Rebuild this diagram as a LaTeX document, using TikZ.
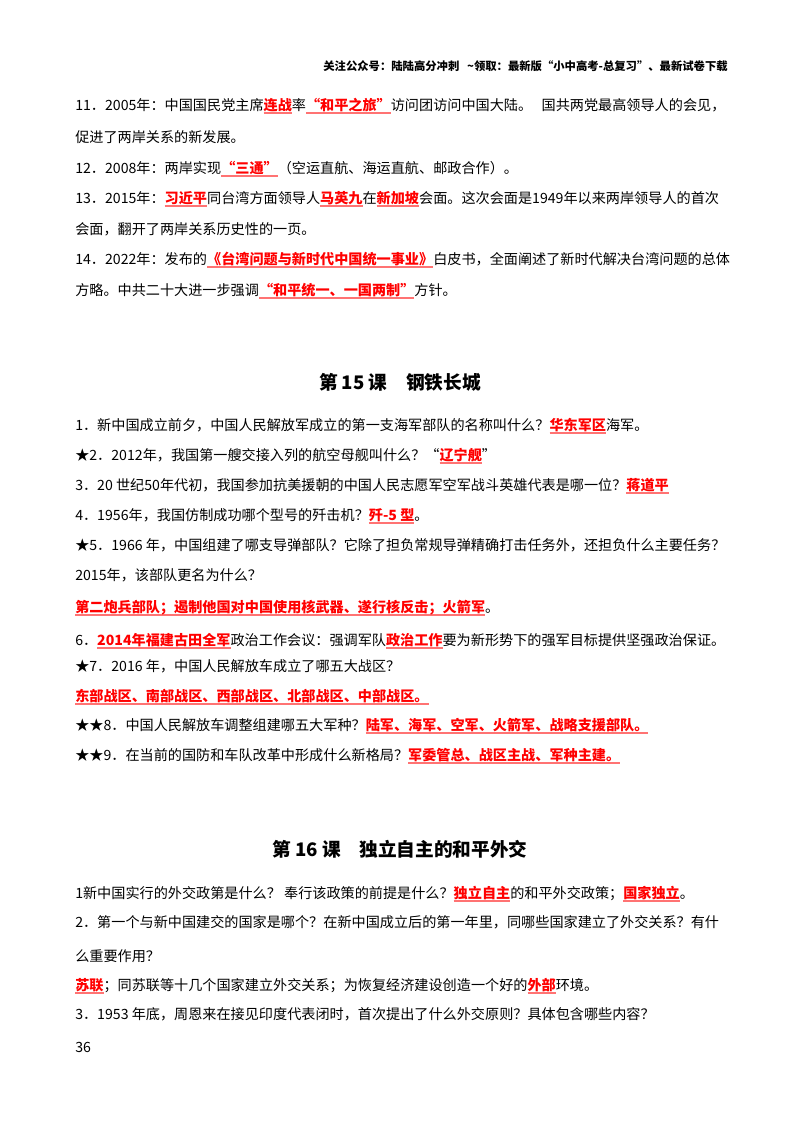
\documentclass[tikz,border=0pt]{standalone}
\usepackage{fontspec}
\setmainfont{Noto Sans CJK SC}
\begin{document}
\begin{tikzpicture}[x=0.75pt,y=-0.75pt,
  ln/.style={anchor=base west,inner sep=0pt,font=\fontsize{10.6pt}{13pt}\selectfont},
  ttl/.style={anchor=base,inner sep=0pt,font=\fontsize{14pt}{16pt}\selectfont\bfseries},
  hdr/.style={anchor=base east,inner sep=0pt,font=\fontsize{8.5pt}{10pt}\selectfont\bfseries}]
\newcommand\ans[1]{\setbox0\hbox{\textcolor{red}{\bfseries #1}}\rlap{\textcolor{red!55}{\rule[-3pt]{\wd0}{1.4pt}}}\box0}
\useasboundingbox[fill=white] (0,0) rectangle (800,1132);
\node[hdr] (h) at (728,70) {关注公众号：陆陆高分冲刺\ \ \ \~{}领取：最新版“小中高考-总复习”、最新试卷下载};
\node[ln] (a1) at (75,110) {11．2005年：中国国民党主席\ans{连战}率\ans{“和平之旅”}访问团访问中国大陆。\ \ \ 国共两党最高领导人的会见，};
\node[ln] (a2) at (75,142) {促进了两岸关系的新发展。};
\node[ln] (a3) at (75,173) {12．2008年：两岸实现\ans{“三通”}（空运直航、海运直航、邮政合作）。};
\node[ln] (a4) at (75,203) {13．2015年：\ans{习近平}同台湾方面领导人\ans{马英九}在\ans{新加坡}会面。这次会面是1949年以来两岸领导人的首次};
\node[ln] (a5) at (75,234) {会面，翻开了两岸关系历史性的一页。};
\node[ln] (a6) at (75,264) {14．2022年：发布的\ans{《台湾问题与新时代中国统一事业》}白皮书，全面阐述了新时代解决台湾问题的总体};
\node[ln] (a7) at (75,295) {方略。中共二十大进一步强调\ans{“和平统一、一国两制”}方针。};
\node[ttl] (t15) at (400,389) {第 15 课\quad 钢铁长城};
\node[ln] (b1) at (75,430) {1．新中国成立前夕，中国人民解放军成立的第一支海军部队的名称叫什么？\ans{华东军区}海军。};
\node[ln] (b2) at (75,460) {★2．2012年，我国第一艘交接入列的航空母舰叫什么？“\ans{辽宁舰}”};
\node[ln] (b3) at (75,490) {3．20 世纪50年代初，我国参加抗美援朝的中国人民志愿军空军战斗英雄代表是哪一位？\ans{蒋道平}};
\node[ln] (b4) at (75,520) {4．1956年，我国仿制成功哪个型号的歼击机？\ans{歼-5 型}。};
\node[ln] (b5) at (75,550) {★5．1966 年，中国组建了哪支导弹部队？它除了担负常规导弹精确打击任务外，还担负什么主要任务？};
\node[ln] (b6) at (75,580) {2015年，该部队更名为什么？};
\node[ln] (b7) at (75,612) {\ans{第二炮兵部队；遏制他国对中国使用核武器、遂行核反击；火箭军}。};
\node[ln] (b8) at (75,645) {6．\ans{2014年福建古田全军}政治工作会议：强调军队\ans{政治工作}要为新形势下的强军目标提供坚强政治保证。};
\node[ln] (b9) at (75,671) {★7．2016 年，中国人民解放车成立了哪五大战区？};
\node[ln] (b10) at (75,701) {\ans{东部战区、南部战区、西部战区、北部战区、中部战区。}};
\node[ln] (b11) at (75,730) {★★8．中国人民解放车调整组建哪五大军种？\ans{陆军、海军、空军、火箭军、战略支援部队。}};
\node[ln] (b12) at (75,760) {★★9．在当前的国防和车队改革中形成什么新格局？\ans{军委管总、战区主战、军种主建。}};
\node[ttl] (t16) at (400,856) {第 16 课\quad 独立自主的和平外交};
\node[ln] (c1) at (75,898) {1新中国实行的外交政第是什么？\ 奉行该政策的前提是什么？\ans{独立自主}的和平外交政策；\ans{国家独立}。};
\node[ln] (c2) at (75,927) {2．第一个与新中国建交的国家是哪个？在新中国成立后的第一年里，同哪些国家建立了外交关系？有什};
\node[ln] (c3) at (75,961) {么重要作用？};
\node[ln] (c4) at (75,990) {\ans{苏联}；同苏联等十几个国家建立外交关系；为恢复经济建设创造一个好的\ans{外部}环境。};
\node[ln] (c5) at (75,1019) {3．1953 年底，周恩来在接见印度代表闭时，首次提出了什么外交原则？具体包含哪些内容？};
\node[ln] (pg) at (75,1052) {36};
\end{tikzpicture}
\end{document}
